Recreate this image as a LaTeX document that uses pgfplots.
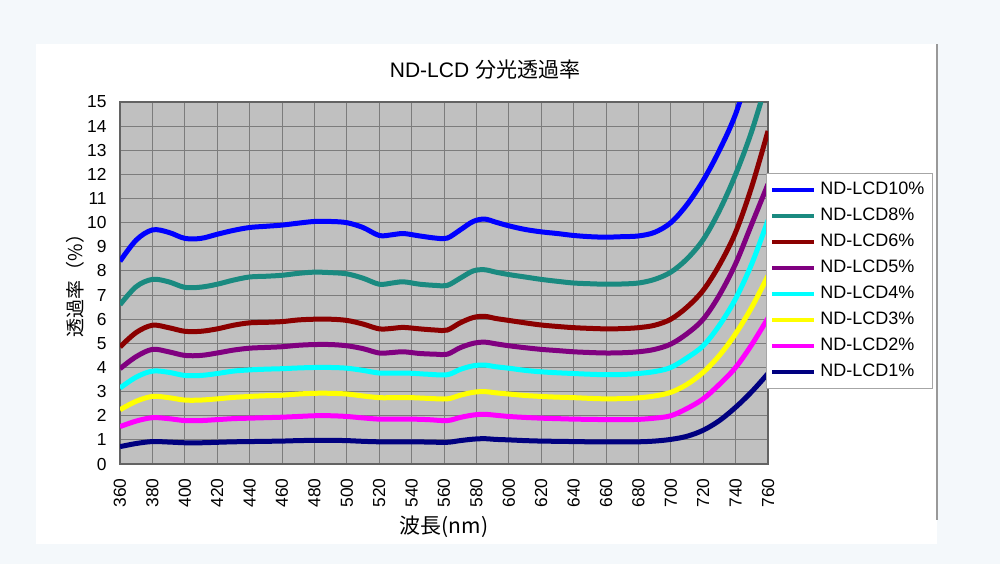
\documentclass[border=0pt]{standalone}
\usepackage{pgfplots}
\pgfplotsset{compat=1.18}
\usepackage{fontspec}
\setmainfont{Liberation Sans}
\newfontfamily\cjk{Noto Sans CJK JP}
\definecolor{plotbg}{HTML}{C0C0C0}
\definecolor{pagebg}{HTML}{F4F8FB}
\definecolor{gridc}{HTML}{7C7C7C}
\definecolor{cTen}{HTML}{0000FF}
\definecolor{cEight}{HTML}{1A8A80}
\definecolor{cSix}{HTML}{8B0000}
\definecolor{cFive}{HTML}{800080}
\definecolor{cFour}{HTML}{00FFFF}
\definecolor{cThree}{HTML}{FFFF00}
\definecolor{cTwo}{HTML}{FF00FF}
\definecolor{cOne}{HTML}{000080}
\begin{document}
\begin{tikzpicture}
\fill[pagebg] (0,0) rectangle (500pt,-282pt);
\fill[white] (18pt,-22pt) rectangle (468.5pt,-272pt);
\draw[gray!80, line width=0.8pt] (468.5pt,-22pt) -- (468.5pt,-260pt);
\begin{axis}[
  at={(60pt,-232pt)}, anchor=south west,
  scale only axis, width=324pt, height=181pt,
  xmin=360, xmax=760, ymin=0, ymax=15,
  xtick={360,380,...,760}, ytick={0,1,...,15},
  grid=major, grid style={gridc, line width=0.5pt},
  axis background/.style={fill=plotbg},
  axis line style={gridc!80!black, line width=0.6pt},
  major tick length=0pt,
  /pgf/number format/assume math mode=true,
  /pgf/number format/1000 sep={},
  tick label style={font=\fontsize{8.7}{10}\selectfont},
  yticklabel style={anchor=east, inner sep=0pt, xshift=-6.5pt},
  xticklabel style={yshift=-7pt, rotate=90, anchor=east, inner sep=0pt},
  legend style={at={(0.997,0.804)}, anchor=north west, draw=gray!70, fill=white,
    font=\fontsize{9}{10.5}\selectfont, row sep=1.2pt, inner xsep=2pt, inner ysep=2.5pt,
    cells={anchor=west}},
  legend image code/.code={\draw[#1, line width=2pt] (0pt,0pt) -- (21pt,0pt);},
  every axis plot/.append style={line width=2.5pt, smooth, tension=0.55},
  clip=true,
]
\addplot[cTen] coordinates {(360,8.4)(370,9.28)(380,9.7)(390,9.6)(400,9.35)(410,9.35)(420,9.52)(430,9.68)(440,9.8)(450,9.85)(460,9.9)(470,9.98)(480,10.05)(490,10.05)(500,10.0)(510,9.8)(520,9.47)(528,9.5)(535,9.55)(545,9.45)(555,9.36)(562,9.36)(570,9.7)(578,10.05)(585,10.15)(592,10.02)(600,9.87)(610,9.72)(620,9.62)(630,9.55)(640,9.47)(650,9.42)(660,9.4)(670,9.42)(680,9.45)(690,9.6)(700,10.0)(710,10.75)(720,11.75)(730,13.0)(740,14.5)(750,16.6)};
\addlegendentry{ND-LCD10\%}
\addplot[cEight] coordinates {(360,6.6)(370,7.35)(380,7.65)(390,7.55)(400,7.32)(410,7.33)(420,7.45)(430,7.62)(440,7.75)(450,7.78)(460,7.82)(470,7.9)(480,7.95)(490,7.93)(500,7.88)(510,7.7)(520,7.45)(528,7.5)(535,7.55)(545,7.45)(555,7.4)(562,7.4)(570,7.7)(578,8.0)(585,8.05)(592,7.95)(600,7.85)(610,7.75)(620,7.65)(630,7.57)(640,7.5)(650,7.47)(660,7.45)(670,7.46)(680,7.5)(690,7.65)(700,7.95)(710,8.5)(720,9.3)(730,10.5)(740,12.0)(750,13.8)(760,16.0)};
\addlegendentry{ND-LCD8\%}
\addplot[cSix] coordinates {(360,4.85)(370,5.45)(380,5.75)(390,5.65)(400,5.5)(410,5.5)(420,5.6)(430,5.75)(440,5.85)(450,5.87)(460,5.9)(470,5.97)(480,6.0)(490,6.0)(500,5.95)(510,5.8)(520,5.6)(528,5.62)(535,5.66)(545,5.6)(555,5.55)(562,5.55)(570,5.85)(578,6.07)(585,6.12)(592,6.03)(600,5.95)(610,5.85)(620,5.76)(630,5.7)(640,5.65)(650,5.62)(660,5.6)(670,5.61)(680,5.65)(690,5.75)(700,6.0)(710,6.5)(720,7.2)(730,8.25)(740,9.6)(750,11.5)(760,13.8)};
\addlegendentry{ND-LCD6\%}
\addplot[cFive] coordinates {(360,3.95)(370,4.45)(380,4.75)(390,4.65)(400,4.5)(410,4.5)(420,4.6)(430,4.72)(440,4.8)(450,4.83)(460,4.86)(470,4.92)(480,4.95)(490,4.95)(500,4.9)(510,4.78)(520,4.6)(528,4.62)(535,4.65)(545,4.58)(555,4.55)(562,4.55)(570,4.82)(578,5.0)(585,5.05)(592,4.98)(600,4.9)(610,4.82)(620,4.75)(630,4.7)(640,4.65)(650,4.62)(660,4.6)(670,4.61)(680,4.65)(690,4.75)(700,4.97)(710,5.4)(720,6.0)(730,7.0)(740,8.3)(750,9.95)(760,11.6)};
\addlegendentry{ND-LCD5\%}
\addplot[cFour] coordinates {(360,3.15)(370,3.6)(380,3.85)(390,3.8)(400,3.67)(410,3.67)(420,3.75)(430,3.85)(440,3.9)(450,3.93)(460,3.95)(470,3.98)(480,4.0)(490,4.0)(500,3.97)(510,3.88)(520,3.77)(530,3.77)(540,3.76)(550,3.72)(562,3.7)(570,3.92)(578,4.07)(585,4.1)(592,4.03)(600,3.97)(610,3.88)(620,3.82)(630,3.78)(640,3.75)(650,3.72)(660,3.7)(670,3.71)(680,3.75)(690,3.83)(700,4.0)(710,4.4)(720,4.9)(730,5.75)(740,6.85)(750,8.3)(760,10.1)};
\addlegendentry{ND-LCD4\%}
\addplot[cThree] coordinates {(360,2.25)(370,2.6)(380,2.8)(390,2.75)(400,2.65)(410,2.65)(420,2.7)(430,2.76)(440,2.8)(450,2.83)(460,2.85)(470,2.9)(480,2.93)(490,2.93)(500,2.9)(510,2.82)(520,2.75)(530,2.75)(540,2.75)(550,2.72)(562,2.7)(570,2.85)(578,2.97)(585,3.0)(592,2.95)(600,2.9)(610,2.84)(620,2.8)(630,2.77)(640,2.75)(650,2.72)(660,2.7)(670,2.71)(680,2.74)(690,2.82)(700,2.97)(710,3.3)(720,3.8)(730,4.5)(740,5.4)(750,6.5)(760,7.8)};
\addlegendentry{ND-LCD3\%}
\addplot[cTwo] coordinates {(360,1.55)(370,1.78)(380,1.92)(390,1.88)(400,1.8)(410,1.8)(420,1.84)(430,1.88)(440,1.9)(450,1.92)(460,1.94)(470,1.97)(480,2.0)(490,2.0)(500,1.97)(510,1.91)(520,1.86)(530,1.86)(540,1.86)(550,1.84)(562,1.8)(570,1.93)(578,2.03)(585,2.06)(592,2.02)(600,1.97)(610,1.93)(620,1.9)(630,1.88)(640,1.86)(650,1.85)(660,1.84)(670,1.84)(680,1.85)(690,1.9)(700,2.0)(710,2.3)(720,2.7)(730,3.3)(740,4.0)(750,4.95)(760,6.05)};
\addlegendentry{ND-LCD2\%}
\addplot[cOne] coordinates {(360,0.72)(370,0.85)(380,0.93)(390,0.91)(400,0.88)(410,0.88)(420,0.9)(430,0.92)(440,0.93)(450,0.94)(460,0.95)(470,0.97)(480,0.98)(490,0.98)(500,0.97)(510,0.94)(520,0.92)(530,0.92)(540,0.92)(550,0.91)(562,0.9)(570,0.97)(578,1.03)(585,1.05)(592,1.02)(600,1.0)(610,0.97)(620,0.95)(630,0.94)(640,0.93)(650,0.92)(660,0.92)(670,0.92)(680,0.92)(690,0.95)(700,1.02)(710,1.15)(720,1.4)(730,1.8)(740,2.35)(750,3.0)(760,3.75)};
\addlegendentry{ND-LCD1\%}
\end{axis}
\node[font=\fontsize{10.5}{13}\selectfont] at (242.5pt,-35pt) {ND-LCD {\cjk 分光透過率}};
\node[font=\fontsize{10.5}{13}\selectfont] at (222pt,-263.5pt) {\cjk 波長(nm)};
\node[font=\fontsize{9.5}{12}\selectfont, rotate=90] at (37.5pt,-140.5pt) {\cjk 透過率（\%）};
\end{tikzpicture}
\end{document}
